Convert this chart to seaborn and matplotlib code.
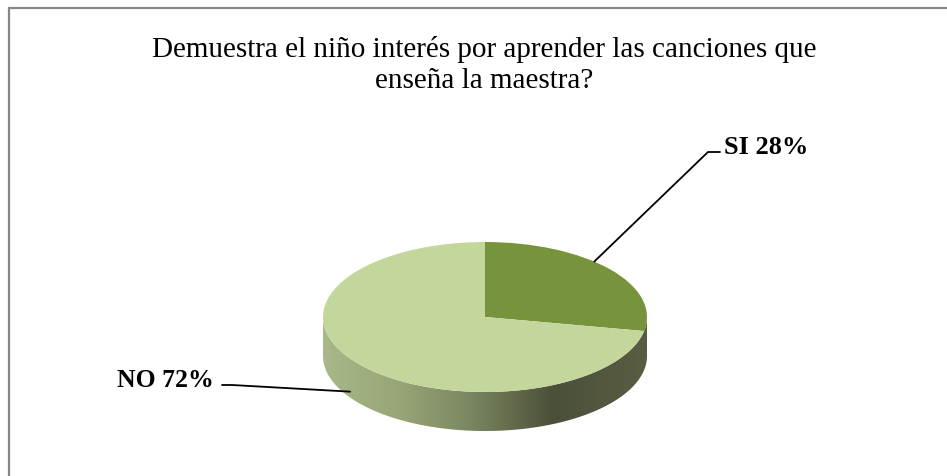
import numpy as np
import matplotlib
matplotlib.use('Agg')
import matplotlib.pyplot as plt
import seaborn as sns
from matplotlib.colors import LinearSegmentedColormap
from matplotlib.patches import Polygon

title_lines = ['Demuestra el niño interés por aprender las canciones que',
               'enseña la maestra?']
labels = ['SI', 'NO']
values = [28, 72]
colors = ['#77933c', '#c3d69b']

sns.set_theme(style='white')
plt.rcParams['font.family'] = ['Liberation Serif', 'DejaVu Serif']

W, H = 947, 477
fig = plt.figure(figsize=(W / 100, H / 100), dpi=100)
ax = fig.add_axes([0, 0, 1, 1])

# pixel centre and semi-axes of the pie's top face
cx, cy, a, b = 485, 318, 162, 75
depth = 39 / b


def px(x, y):
    return (x - cx) / a, (cy - y) / b


wedges, _ = ax.pie(values, colors=colors, startangle=90, counterclock=False,
                   radius=1, center=(0, 0), wedgeprops=dict(linewidth=0))
for w in wedges:
    w.set_zorder(3)

# side of the 3d disc, shaded with a horizontal gradient
t = np.linspace(np.pi, 2 * np.pi, 300)
top = np.c_[np.cos(t), np.sin(t)]
bot = np.c_[np.cos(t[::-1]), np.sin(t[::-1]) - depth]
side = Polygon(np.vstack([top, bot]), closed=True, facecolor='none', edgecolor='none')
ax.add_patch(side)
side_cmap = LinearSegmentedColormap.from_list(
    'side', [(0, '#a9b888'), (0.24, '#97a577'), (0.45, '#7b8761'),
             (0.71, '#4b5139'), (1, '#585d42')])
grad = np.linspace(0, 1, 256)[None, :]
im = ax.imshow(grad, extent=(-1, 1, -1 - depth, 0.05), cmap=side_cmap,
               aspect='auto', zorder=2)
im.set_clip_path(side)

ax.set_aspect('auto')
ax.set_xlim(px(0, 0)[0], px(W, 0)[0])
ax.set_ylim(px(0, H)[1], px(0, 0)[1])
ax.axis('off')

# data labels with leader lines (angles nudged for the tilted view)
total = sum(values)
si_mid = np.deg2rad(90 - values[0] / total * 360 / 2 + 8)
no_mid = np.deg2rad(90 - values[0] / total * 360 - values[1] / total * 360 / 2 - 6)
si_anchor = (np.cos(si_mid), np.sin(si_mid))
no_anchor = (np.cos(no_mid), np.sin(no_mid) - depth * 0.85)

p1, p2 = px(708, 153), px(720, 153)
ax.plot([si_anchor[0], p1[0], p2[0]], [si_anchor[1], p1[1], p2[1]],
        color='black', lw=1.3, zorder=5)
ax.text(*px(724, 154), f'{labels[0]} {values[0]}%', ha='left', va='baseline',
        fontsize=19, fontweight='bold', color='black')

q1, q2 = px(222, 386), px(232, 386)
ax.plot([q1[0], q2[0], no_anchor[0]], [q1[1], q2[1], no_anchor[1]],
        color='black', lw=1.3, zorder=5)
ax.text(*px(214, 387), f'{labels[1]} {values[1]}%', ha='right', va='baseline',
        fontsize=18.5, fontweight='bold', color='black')

# title
fig.text(484 / W, 1 - 57 / H, title_lines[0], ha='center', va='baseline',
         fontsize=21, color='black')
fig.text(484 / W, 1 - 88 / H, title_lines[1], ha='center', va='baseline',
         fontsize=21, color='black')

# chart frame (only top and left edges visible)
fig.add_artist(plt.Line2D([8.5 / W, 1], [1 - 8.5 / H, 1 - 8.5 / H],
                          transform=fig.transFigure, color='#868686', lw=1.6))
fig.add_artist(plt.Line2D([8.5 / W, 8.5 / W], [0, 1 - 8.5 / H],
                          transform=fig.transFigure, color='#868686', lw=1.6))

fig.savefig('out.png', dpi=100, facecolor='white')
